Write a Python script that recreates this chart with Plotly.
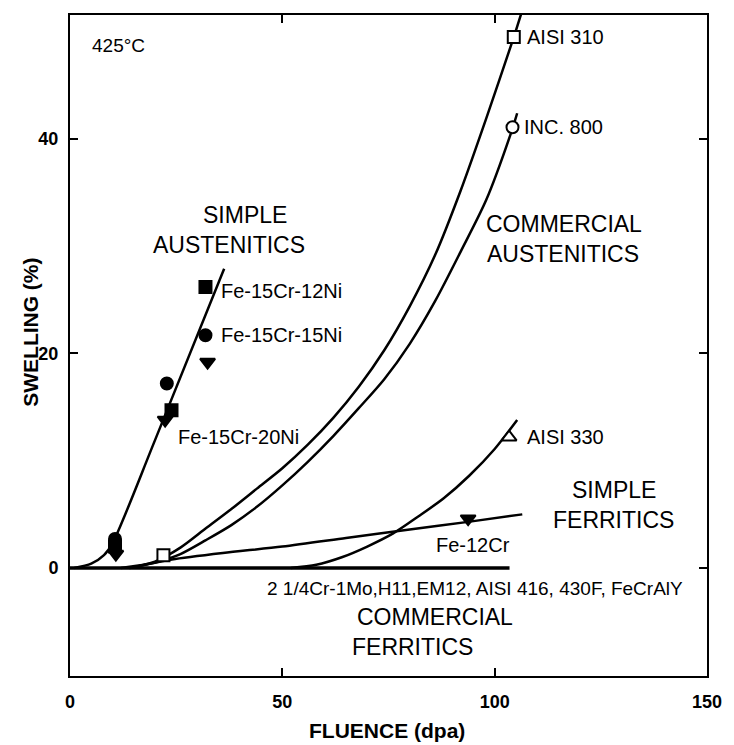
import plotly.graph_objects as go

# ---------------- data ----------------
simple_aus_x = [1, 5, 8, 10, 20, 36.3]
simple_aus_y = [0, 0.4, 1.2, 2.3, 11.9, 27.9]

aisi310_x = [14, 20, 26, 32, 38, 44, 50, 56, 62, 68, 74, 80, 86, 92, 98, 104.5, 106.5]
aisi310_y = [0, 0.6, 1.9, 3.7, 5.5, 7.4, 9.3, 11.5, 14.0, 16.9, 20.3, 24.4, 29.2, 35.2, 41.9, 49.5, 52.0]

inc800_x = [14, 20, 26, 32, 38, 44, 50, 56, 62, 68, 74, 80, 86, 92, 98, 103.8, 105.3]
inc800_y = [0, 0.5, 1.3, 2.6, 4.0, 5.7, 7.7, 9.9, 12.3, 14.9, 17.6, 20.9, 24.9, 29.5, 34.3, 40.5, 42.4]

aisi330_x = [52, 58, 64, 70, 76, 82, 88, 94, 100, 105.3]
aisi330_y = [0, 0.3, 1.0, 2.0, 3.2, 4.8, 6.5, 8.6, 11.1, 13.8]

fe12cr_x = [12, 18, 24, 36, 50, 65, 80, 93.75, 106.5]
fe12cr_y = [0, 0.35, 0.8, 1.4, 2.0, 2.8, 3.6, 4.3, 5.0]

comm_ferr_x = [0, 103.5]
comm_ferr_y = [0, 0]

# simple austenitic data points
sq_x = [10.6, 23.9, 31.9]
sq_y = [2.0, 14.7, 26.2]
circ_x = [10.6, 22.8, 31.9]
circ_y = [2.7, 17.2, 21.7]
tri_x = [10.8, 22.4, 32.4]
tri_y = [1.3, 13.8, 19.2]

# commercial alloy end points
open_sq_x = [22.0, 104.5]
open_sq_y = [1.2, 49.5]
open_circ_x = [104.2]
open_circ_y = [41.1]
open_tri_x = [103.4]
open_tri_y = [12.2]
fe12cr_pt_x = [93.75]
fe12cr_pt_y = [4.6]

x_ticks = [0, 50, 100, 150]
y_ticks = [0, 20, 40]

# ---------------- figure ----------------
fig = go.Figure()

for xs, ys in [(simple_aus_x, simple_aus_y), (aisi310_x, aisi310_y),
               (inc800_x, inc800_y), (aisi330_x, aisi330_y),
               (fe12cr_x, fe12cr_y)]:
    fig.add_trace(go.Scatter(x=xs, y=ys, mode="lines",
                             line=dict(color="black", width=2.5, shape="spline", smoothing=0.8),
                             showlegend=False, hoverinfo="skip"))

fig.add_trace(go.Scatter(x=comm_ferr_x, y=comm_ferr_y, mode="lines",
                         line=dict(color="black", width=3.5), showlegend=False))

def add_markers(xs, ys, symbol, size, filled=True):
    fig.add_trace(go.Scatter(
        x=xs, y=ys, mode="markers", showlegend=False, cliponaxis=False,
        marker=dict(symbol=symbol, size=size,
                    color="black" if filled else "white",
                    line=dict(color="black", width=2))))

add_markers(sq_x, sq_y, "square", 12)
add_markers(circ_x, circ_y, "circle", 12)
add_markers(tri_x, tri_y, "triangle-down", 13)
add_markers(open_sq_x, open_sq_y, "square", 12, filled=False)
add_markers(open_circ_x, open_circ_y, "circle", 12, filled=False)
add_markers(open_tri_x, open_tri_y, "triangle-up", 13, filled=False)
add_markers(fe12cr_pt_x, fe12cr_pt_y, "triangle-down", 13)

FONT = "Liberation Sans, Arial, sans-serif"

def label(text, x, y, size, anchor="left", angle=0, bold=False, ref="data"):
    r = ("x", "y") if ref == "data" else ("paper", "paper")
    fig.add_annotation(x=x, y=y, xref=r[0], yref=r[1],
                       text=("<b>%s</b>" % text) if bold else text,
                       showarrow=False, xanchor=anchor, yanchor="middle",
                       textangle=angle,
                       font=dict(family=FONT, size=size, color="black"))

big = 23
small = 20
label("SIMPLE", 41.2, 32.9, big, "center")
label("AUSTENITICS", 37.5, 30.1, big, "center")
label("COMMERCIAL", 116.4, 32.06, big, "center")
label("AUSTENITICS", 116.0, 29.26, big, "center")
label("SIMPLE", 128.0, 7.27, big, "center")
label("FERRITICS", 128.0, 4.47, big, "center")
label("COMMERCIAL", 85.9, -4.57, big, "center")
label("FERRITICS", 80.6, -7.36, big, "center")

label("AISI 310", 107.2, 49.5, small)
label("INC. 800", 106.5, 41.1, small)
label("AISI 330", 107.2, 12.2, small)
label("Fe-12Cr", 85.6, 2.1, small)
label("Fe-15Cr-12Ni", 35.0, 25.8, small)
label("Fe-15Cr-15Ni", 35.0, 21.7, small)
label("Fe-15Cr-20Ni", 25.0, 12.2, small)
label("2 1/4Cr-1Mo,H11,EM12, AISI 416, 430F, FeCrAlY", 45.8, -1.9, 19)
label("425°C", 4.6, 48.7, 19)

# axis titles (paper coordinates, outside the plot area)
label("FLUENCE (dpa)", 0.497, -0.082, 21, "center", bold=True, ref="paper")
label("SWELLING (%)", -0.062, 0.52, 21, "center", angle=-90, bold=True, ref="paper")

axis_common = dict(showline=True, mirror="ticks", linecolor="black", linewidth=2,
                   ticks="inside", ticklen=8, tickwidth=2, tickcolor="black",
                   showgrid=False, zeroline=False,
                   tickfont=dict(family=FONT, size=18, color="black", weight="bold"))

fig.update_xaxes(range=[0, 150], tickvals=x_ticks, ticklabelstandoff=8, **axis_common)
fig.update_yaxes(range=[-10.07, 51.56], tickvals=y_ticks, ticklabelstandoff=6, **axis_common)

fig.update_layout(width=734, height=745,
                  margin=dict(l=70, r=16, t=15, b=69),
                  plot_bgcolor="white", paper_bgcolor="white",
                  showlegend=False)

fig.write_html("out.html")
